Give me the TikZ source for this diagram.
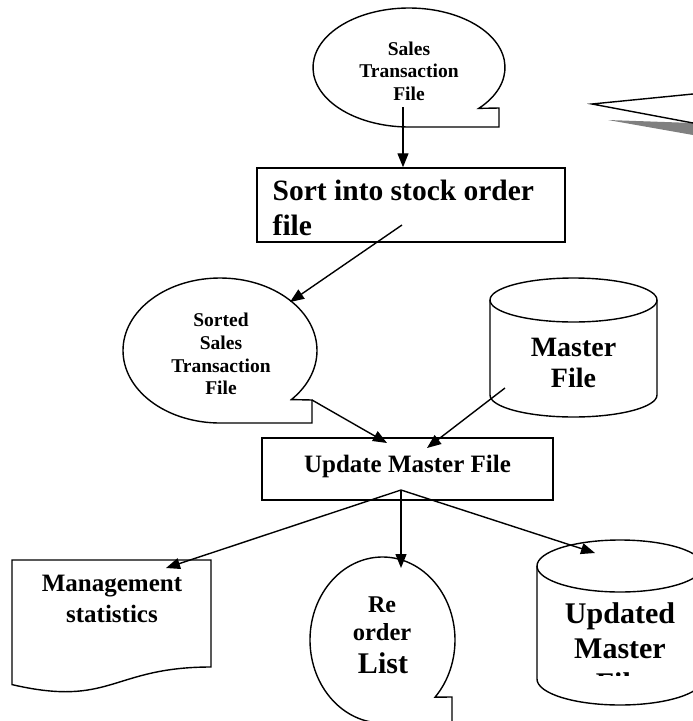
\documentclass[tikz,border=0pt]{standalone}
\usepackage{fontspec}
\setmainfont{Liberation Serif}
\usetikzlibrary{arrows.meta}

\begin{document}
\begin{tikzpicture}[
    x=1pt, y=1pt,
    line width=1.4pt,
    box/.style={draw, rectangle, line width=1.5pt, inner sep=0pt},
    lbl/.style={inner sep=0pt, align=center},
    arr/.style={-{Triangle[length=14pt,width=11pt]}, line width=1.4pt}
]
    \clip (0,0) rectangle (693,-721);

    % Sales transaction file (tape)
    \draw (409,-67.5) ++(-43.4:96pt and 59.5pt)
        arc[start angle=-43.4, end angle=270, x radius=96pt, y radius=59.5pt]
        -- (499,-127) -- (499,-108) -- cycle;
    \node[lbl, font=\fontsize{19.5}{22.5}\selectfont\bfseries] (stf) at (409,-71) {Sales\\Transaction\\File};

    % Sort box
    \node[box, minimum width=308pt, minimum height=74pt] (sort) at (411,-205) {};
    \node[lbl, anchor=base west, font=\fontsize{29.5}{35}\selectfont\bfseries] (sortA) at (272,-200) {Sort into stock order};
    \node[lbl, anchor=base west, font=\fontsize{29.5}{35}\selectfont\bfseries] (sortB) at (272,-235) {file};

    % Sorted sales transaction file (tape)
    \draw (220,-350.5) ++(-42.6:97pt and 72.5pt)
        arc[start angle=-42.6, end angle=270, x radius=97pt, y radius=72.5pt]
        -- (312,-423) -- (312,-400) -- cycle;
    \node[lbl, font=\fontsize{19.5}{22.7}\selectfont\bfseries] (sst) at (221,-354) {Sorted\\Sales\\Transaction\\File};

    % Master file (disk)
    \draw (490,-300) -- (490,-395)
        arc[start angle=180, end angle=360, x radius=83.5pt, y radius=22pt] -- (657,-300);
    \draw (573.5,-300) ellipse[x radius=83.5pt, y radius=22pt];
    \node[lbl, font=\fontsize{28}{31}\selectfont\bfseries] (mst) at (573.5,-363) {Master\\File};

    % Update box
    \node[box, minimum width=291pt, minimum height=62pt] (upd) at (407.5,-469) {};
    \node[lbl, anchor=base, font=\fontsize{25}{29}\selectfont\bfseries] (updlbl) at (407.5,-472) {Update Master File};

    % Management statistics (document)
    \draw (12,-560) -- (211,-560) -- (211,-667)
        .. controls (111.5,-667) and (111.5,-707.7) .. (12,-684.6) -- cycle;
    \node[lbl, font=\fontsize{25}{31}\selectfont\bfseries] (mgt) at (112,-599) {Management\\statistics};

    % Re order list (tape)
    \draw (382.5,-640) ++(-43.5:72.5pt and 83pt)
        arc[start angle=-43.5, end angle=270, x radius=72.5pt, y radius=83pt]
        -- (452,-723) -- (452,-697) -- cycle;
    \node[lbl, anchor=base, font=\fontsize{24}{28}\selectfont\bfseries] (roA) at (382,-612) {Re};
    \node[lbl, anchor=base, font=\fontsize{24.5}{28}\selectfont\bfseries] (roB) at (382,-640) {order};
    \node[lbl, anchor=base, font=\fontsize{30}{34}\selectfont\bfseries] (roC) at (383,-673) {List};

    % Updated master file (disk)
    \draw (537,-566) -- (537,-679)
        arc[start angle=180, end angle=360, x radius=83pt, y radius=26pt] -- (703,-566);
    \draw (620,-566) ellipse[x radius=83pt, y radius=26pt];
    \begin{scope}
        \clip (537,-540) rectangle (703,-675);
        \node[lbl, font=\fontsize{30}{35}\selectfont\bfseries] (umf) at (620,-648) {Updated\\Master\\File};
    \end{scope}

    % Wedge at top right
    \fill[gray] (608,-120) -- (693,-123) -- (693,-135) -- cycle;
    \draw (693,-94) -- (592,-104) -- (693,-123);

    % Connectors
    \coordinate (stfout) at (403,-107);
    \coordinate (sortout) at (402,-225);
    \coordinate (sstin) at (290,-302);
    \coordinate (sstout) at (312,-400);
    \coordinate (updinL) at (387,-443);
    \coordinate (mstout) at (505,-388);
    \coordinate (updinR) at (427,-448);
    \coordinate (updout) at (401,-490);
    \coordinate (mgtin) at (166,-568);
    \coordinate (roin) at (401,-568);
    \coordinate (umfin) at (595,-553);
    \draw[arr] (stfout) -- (stfout |- sort.north);
    \draw[arr] (sortout) -- (sstin);
    \draw[arr] (sstout) -- (updinL);
    \draw[arr] (mstout) -- (updinR);
    \draw[arr] (updout) -- (mgtin);
    \draw[arr] (updout) -- (roin);
    \draw[arr] (updout) -- (umfin);
\end{tikzpicture}
\end{document}
